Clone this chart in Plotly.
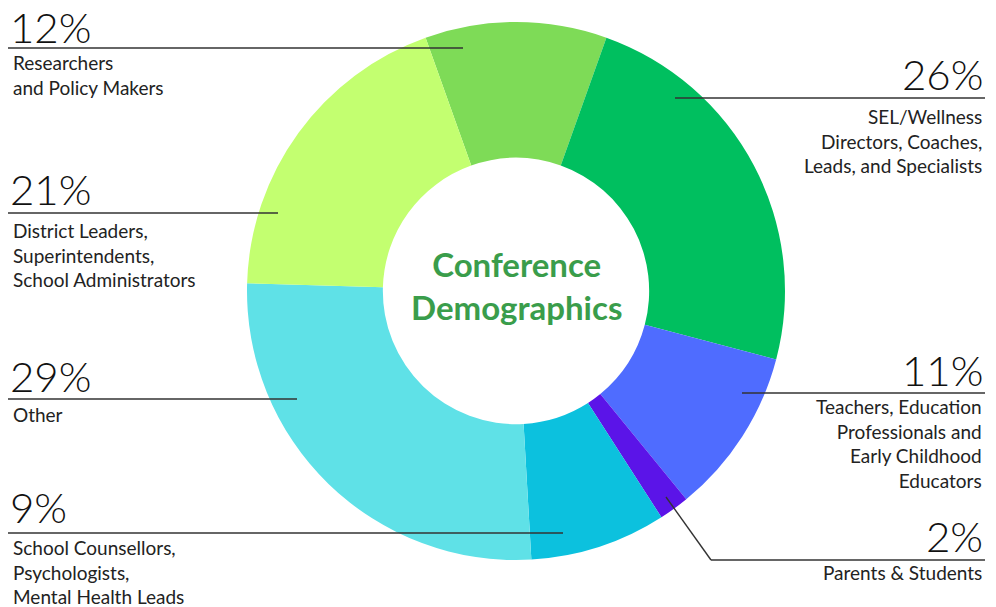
import plotly.graph_objects as go

W, H = 996, 607

categories = [
    "Researchers and Policy Makers",
    "SEL/Wellness Directors, Coaches, Leads, and Specialists",
    "Teachers, Education Professionals and Early Childhood Educators",
    "Parents & Students",
    "School Counsellors, Psychologists, Mental Health Leads",
    "Other",
    "District Leaders, Superintendents, School Administrators",
]
values = [12, 26, 11, 2, 9, 29, 21]
pct_labels = ["12%", "26%", "11%", "2%", "9%", "29%", "21%"]
descriptions = [
    "Researchers<br>and Policy Makers",
    "SEL/Wellness<br>Directors, Coaches,<br>Leads, and Specialists",
    "Teachers, Education<br>Professionals and<br>Early Childhood<br>Educators",
    "Parents & Students",
    "School Counsellors,<br>Psychologists,<br>Mental Health Leads",
    "Other",
    "District Leaders,<br>Superintendents,<br>School Administrators",
]
colors = ["#7edb57", "#00bf5f", "#4f6cff", "#5b14e8", "#0cc1de", "#5fe1e7", "#c3ff70"]

# label layout (pixel positions in the 996x607 canvas)
# side, line_y, line_x0, line_x1, pct_center_y, desc_center_y, elbow(optional)
label_layout = [
    ("left", 48, 8, 463, 27, 75, None),
    ("right", 98, 675, 985, 74, 141, None),
    ("right", 393, 742, 985, 370, 443, None),
    ("right", 560, 711, 985, 536, 572, (666, 497)),
    ("left", 533, 8, 563, 507, 572, None),
    ("left", 399, 8, 297, 376, 414, None),
    ("left", 213, 8, 278, 189, 255, None),
]

FONT = "Lato"

def px(x):
    return x / W

def py(y):
    return 1 - y / H

cx, cy, r = 516, 291, 269

fig = go.Figure(
    go.Pie(
        labels=categories,
        values=values,
        marker=dict(colors=colors, line=dict(width=0)),
        hole=0.495,
        sort=False,
        direction="clockwise",
        rotation=-360 * values[0] / sum(values) / 2,
        textinfo="none",
        hoverinfo="label+percent",
        showlegend=False,
        domain=dict(x=[px(cx - r), px(cx + r)], y=[py(cy + r), py(cy - r)]),
    )
)

shapes = []
annotations = []
for i, (side, ly, x0, x1, pcy, dcy, elbow) in enumerate(label_layout):
    shapes.append(dict(type="line", xref="paper", yref="paper",
                       x0=px(x0), x1=px(x1), y0=py(ly), y1=py(ly),
                       line=dict(color="#333333", width=1.6)))
    if elbow is not None:
        shapes.append(dict(type="line", xref="paper", yref="paper",
                           x0=px(elbow[0]), y0=py(elbow[1]), x1=px(x0), y1=py(ly),
                           line=dict(color="#333333", width=1.4)))
    if side == "left":
        xa, xp, xd = "left", px(8), px(11)
        align = "left"
    else:
        xa, xp, xd = "right", px(985), px(984)
        align = "right"
    annotations.append(dict(text=pct_labels[i], xref="paper", yref="paper",
                            x=xp, y=py(pcy), xanchor=xa, yanchor="middle",
                            showarrow=False,
                            font=dict(family=FONT, size=42, color="#111111", weight=300)))
    annotations.append(dict(text=descriptions[i], xref="paper", yref="paper",
                            x=xd, y=py(dcy), xanchor=xa, yanchor="middle",
                            align=align, showarrow=False,
                            font=dict(family=FONT, size=19, color="#222222")))

annotations.append(dict(text="Conference<br>Demographics", xref="paper", yref="paper",
                        x=px(cx), y=py(cy - 5), xanchor="center", yanchor="middle",
                        showarrow=False,
                        font=dict(family=FONT, size=33, color="#3a9d4b", weight="bold")))

fig.update_layout(
    width=W, height=H,
    margin=dict(l=0, r=0, t=0, b=0),
    paper_bgcolor="white",
    plot_bgcolor="white",
    shapes=shapes,
    annotations=annotations,
)

fig.write_html("out.html", config={"displayModeBar": False},
               post_script="document.body.style.margin='0';document.body.style.overflow='hidden';")
